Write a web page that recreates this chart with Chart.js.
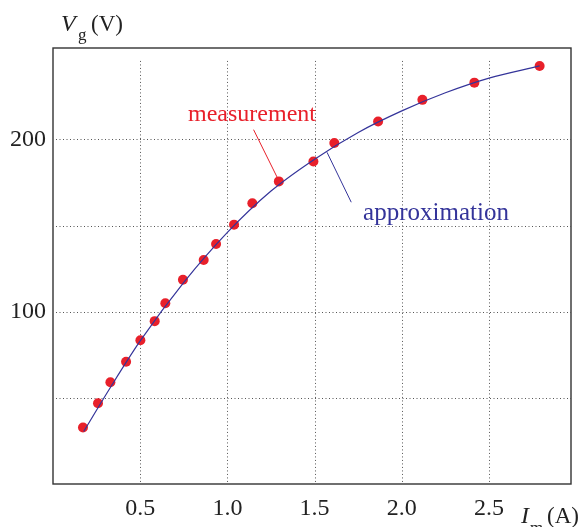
<!DOCTYPE html>
<html>
<head>
<meta charset="utf-8">
<script src="https://cdn.jsdelivr.net/npm/chart.js@4.4.1/dist/chart.umd.min.js"></script>
<style>
  html, body { margin: 0; padding: 0; background: #fff; }
  canvas { display: block; }
</style>
</head>
<body>
<canvas id="vgChart" width="585" height="527"></canvas>
<script>
// Measured points: magnetising current I_m (A) against voltage V_g (V)
const currentA = [0.172, 0.258, 0.329, 0.419, 0.501, 0.583, 0.644, 0.745, 0.864, 0.935, 1.038, 1.143, 1.295, 1.493, 1.613, 1.864, 2.118, 2.416, 2.790];
const voltageV = [32.8, 46.9, 59.0, 70.9, 83.4, 94.5, 104.9, 118.5, 130.0, 139.3, 150.5, 162.9, 175.6, 187.1, 197.9, 210.3, 222.9, 232.9, 242.6];

// Approximation curve (read along the drawn fit)
const fitCurrentA = [0.176, 0.329, 0.5, 0.75, 1.0, 1.25, 1.5, 1.75, 2.0, 2.25, 2.5, 2.79];
const fitVoltageV = [30.5, 56, 83, 117, 146, 170, 188.5, 204, 216.5, 227, 235.5, 242.6];

// Axis ticks / grid
const xGridValues = [0.5, 1.0, 1.5, 2.0, 2.5];
const yGridValues = [50, 100, 150, 200];
const xTickLabels = ['0.5', '1.0', '1.5', '2.0', '2.5'];
const yTickValues = [100, 200];
const yTickLabels = ['100', '200'];

const SERIF = '"Liberation Serif", "Times New Roman", serif';
const RED = '#e8202a';
const BLUE = '#34349a';

// callout positions in data units
const callouts = [
  { text: 'measurement', color: RED, size: 24, tx: 1.141, ty: 210.9, from: [1.150, 205.6], to: [1.290, 177.0] },
  { text: 'approximation', color: BLUE, size: 25, tx: 2.196, ty: 153.2, from: [1.571, 192.5], to: [1.710, 163.5] }
];

const frameAndLabels = {
  id: 'frameAndLabels',
  beforeDatasetsDraw(chart) {
    const { ctx, chartArea: a, scales: { x, y } } = chart;
    ctx.save();
    ctx.strokeStyle = '#555';
    ctx.lineWidth = 1;
    ctx.setLineDash([1, 2.5]);
    const gridTop = y.getPixelForValue(245.5);
    xGridValues.forEach(v => {
      const px = Math.round(x.getPixelForValue(v)) + 0.5;
      ctx.beginPath();
      ctx.moveTo(px, gridTop);
      ctx.lineTo(px, a.bottom);
      ctx.stroke();
    });
    yGridValues.forEach(v => {
      const py = Math.round(y.getPixelForValue(v)) + 0.5;
      ctx.beginPath();
      ctx.moveTo(a.left + 3, py);
      ctx.lineTo(a.right, py);
      ctx.stroke();
    });
    ctx.restore();
  },
  afterDatasetsDraw(chart) {
    const { ctx, chartArea: a, scales: { x, y } } = chart;
    ctx.save();
    // box
    ctx.strokeStyle = '#333';
    ctx.lineWidth = 1.4;
    ctx.strokeRect(a.left, a.top, a.right - a.left, a.bottom - a.top);

    // callouts
    callouts.forEach(c => {
      ctx.strokeStyle = c.color;
      ctx.lineWidth = 1;
      ctx.beginPath();
      ctx.moveTo(x.getPixelForValue(c.from[0]), y.getPixelForValue(c.from[1]));
      ctx.lineTo(x.getPixelForValue(c.to[0]), y.getPixelForValue(c.to[1]));
      ctx.stroke();
      ctx.fillStyle = c.color;
      ctx.font = c.size + 'px ' + SERIF;
      ctx.textAlign = 'center';
      ctx.textBaseline = 'alphabetic';
      ctx.fillText(c.text, x.getPixelForValue(c.tx), y.getPixelForValue(c.ty));
    });

    // axis titles with subscripts
    ctx.fillStyle = '#222';
    ctx.textAlign = 'left';
    ctx.textBaseline = 'alphabetic';
    ctx.font = 'italic 24px ' + SERIF;
    ctx.fillText('V', 61, 31);
    ctx.font = '17px ' + SERIF;
    ctx.fillText('g', 78, 40);
    ctx.font = '23px ' + SERIF;
    ctx.fillText('(V)', 91, 31);

    ctx.font = 'italic 24px ' + SERIF;
    ctx.fillText('I', 521, 523);
    ctx.font = '17px ' + SERIF;
    ctx.fillText('m', 530, 533);
    ctx.font = '23px ' + SERIF;
    ctx.fillText('(A)', 547, 523);
    ctx.restore();
  }
};

new Chart(document.getElementById('vgChart'), {
  type: 'scatter',
  data: {
    datasets: [
      {
        label: 'approximation',
        type: 'line',
        data: fitCurrentA.map((v, i) => ({ x: v, y: fitVoltageV[i] })),
        borderColor: BLUE,
        borderWidth: 1.2,
        pointRadius: 0,
        cubicInterpolationMode: 'monotone',
        fill: false,
        order: 0
      },
      {
        label: 'measurement',
        data: currentA.map((v, i) => ({ x: v, y: voltageV[i] })),
        backgroundColor: RED,
        borderWidth: 0,
        pointRadius: 5,
        pointHoverRadius: 5,
        order: 1
      }
    ]
  },
  options: {
    responsive: false,
    animation: false,
    layout: { padding: { top: 48, right: 14, left: 0, bottom: 0 } },
    plugins: { legend: { display: false }, tooltip: { enabled: false } },
    scales: {
      x: {
        type: 'linear',
        min: 0,
        max: 2.97,
        grid: { display: false, drawTicks: false },
        border: { display: false },
        afterBuildTicks: s => { s.ticks = xGridValues.map(v => ({ value: v })); },
        afterFit: s => { s.height = 43; },
        ticks: {
          padding: 10,
          color: '#222',
          font: { family: SERIF, size: 24 },
          callback: v => xTickLabels[xGridValues.indexOf(v)]
        }
      },
      y: {
        type: 'linear',
        min: 0,
        max: 253,
        grid: { display: false, drawTicks: false },
        border: { display: false },
        afterBuildTicks: s => { s.ticks = yTickValues.map(v => ({ value: v })); },
        afterFit: s => { s.width = 53; },
        ticks: {
          padding: 7,
          color: '#222',
          font: { family: SERIF, size: 24 },
          callback: v => yTickLabels[yTickValues.indexOf(v)]
        }
      }
    }
  },
  plugins: [frameAndLabels]
});
</script>
</body>
</html>
